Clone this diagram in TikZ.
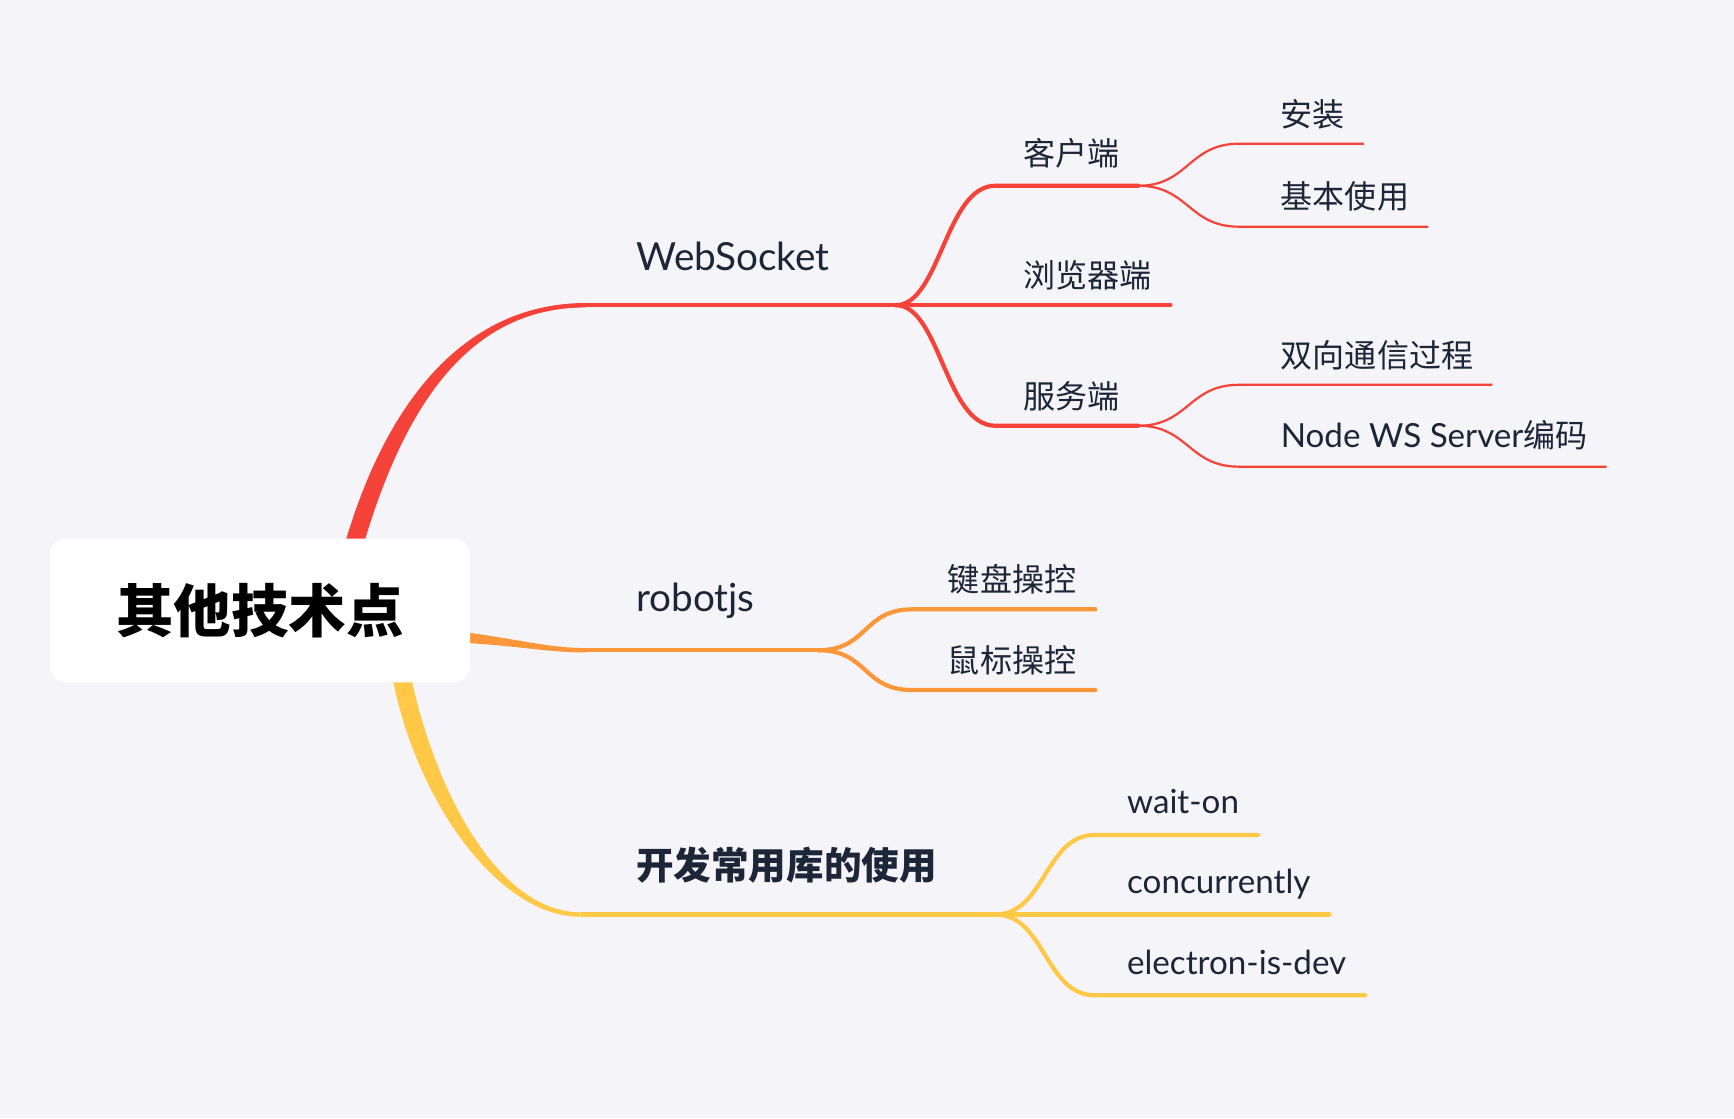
\documentclass[tikz,border=0pt]{standalone}
\usepackage{fontspec}
\setmainfont{Lato}
\newfontfamily\cjk{Noto Sans CJK SC}
\usetikzlibrary{calc}
\definecolor{bgcol}{RGB}{244,244,249}
\definecolor{wsred}{RGB}{245,67,58}
\definecolor{robotorange}{RGB}{252,151,57}
\definecolor{libyellow}{RGB}{255,200,71}
\definecolor{textnavy}{RGB}{28,38,56}
\tikzset{
  rootbox/.style={fill=white, rounded corners=14pt, minimum width=380pt, minimum height=130pt,
    font=\cjk\bfseries\fontsize{52}{60}\selectfont, text=black},
  lvone/.style={anchor=base west, inner xsep=17pt, text=textnavy, font=\fontsize{35}{40}\selectfont},
  lvtwo/.style={anchor=base west, inner xsep=17pt, text=textnavy, font=\fontsize{29}{34}\selectfont},
  latin/.style={font=\fontsize{30}{34}\selectfont},
  branch/.style={line width=3.8pt, line cap=round},
  twig/.style={line width=2pt}
}
\begin{document}
\begin{tikzpicture}[x=1pt,y=1pt]
    \useasboundingbox (0,0) rectangle (1568,1011);
    \fill[bgcol] (0,0) rectangle (1568,1011);

    % WebSocket
    \coordinate (wsroot) at (318,511);
    \coordinate (ws) at (530,735);
    \coordinate (wsfork) at (810,735);
    \fill[wsred] ($(wsroot)+(-8,2)$) .. controls (352,662) and (430,737) .. ($(ws)+(0,2)$)
        -- ($(ws)+(0,-2)$) .. controls (432,733) and (368,658) .. ($(wsroot)+(8,-2)$) -- cycle;
    \draw[wsred, line width=4pt] (ws) -- (wsfork);
    \node[lvone] (wslabel) at (558,766) {WebSocket};

    \coordinate (khd) at (900,843);
    \node[lvtwo] (khdlabel) at (908,861) {\cjk 客户端};
    \coordinate (khdend) at (khd -| khdlabel.east);
    \draw[wsred, branch] (wsfork) .. controls +(40,0) and +(-45,0) .. (khd) -- (khdend);

    \node[lvtwo] (llqlabel) at (908,751) {\cjk 浏览器端};
    \draw[wsred, branch] (wsfork) -- (wsfork -| llqlabel.east);

    \coordinate (fwd) at (900,626);
    \node[lvtwo] (fwdlabel) at (908,642) {\cjk 服务端};
    \coordinate (fwdend) at (fwd -| fwdlabel.east);
    \draw[wsred, branch] (wsfork) .. controls +(40,0) and +(-45,0) .. (fwd) -- (fwdend);

    \coordinate (az) at (1120,881);
    \node[lvtwo] (azlabel) at (1141,897) {\cjk 安装};
    \draw[wsred, twig] (khdend) .. controls +(45,0) and +(-45,0) .. (az) -- (az -| azlabel.east);

    \coordinate (jbsy) at (1120,806);
    \node[lvtwo] (jbsylabel) at (1141,822) {\cjk 基本使用};
    \draw[wsred, twig] (khdend) .. controls +(45,0) and +(-45,0) .. (jbsy) -- (jbsy -| jbsylabel.east);

    \coordinate (sxtx) at (1120,663);
    \node[lvtwo] (sxtxlabel) at (1141,679) {\cjk 双向通信过程};
    \draw[wsred, twig] (fwdend) .. controls +(45,0) and +(-45,0) .. (sxtx) -- (sxtx -| sxtxlabel.east);

    \coordinate (nodews) at (1120,589);
    \node[lvtwo, latin] (nodewslabel) at (1141,606) {Node WS Server\cjk\fontsize{29}{34}\selectfont 编码};
    \draw[wsred, twig] (fwdend) .. controls +(45,0) and +(-45,0) .. (nodews) -- (nodews -| nodewslabel.east);

    % robotjs
    \coordinate (rbroot) at (415,435);
    \coordinate (rb) at (530,423);
    \coordinate (rbfork) at (740,423);
    \fill[robotorange] ($(rbroot)+(0,5)$) .. controls (470,433) and (495,425) .. ($(rb)+(0,2)$)
        -- ($(rb)+(0,-2)$) .. controls (495,421) and (470,427) .. ($(rbroot)+(0,-5)$) -- cycle;
    \draw[robotorange, line width=4pt] (rb) -- (rbfork);
    \node[lvone] (rblabel) at (558,458) {robotjs};

    \coordinate (jpck) at (825,460);
    \node[lvtwo] (jpcklabel) at (840,476) {\cjk 键盘操控};
    \draw[robotorange, branch] (rbfork) .. controls +(45,0) and +(-45,0) .. (jpck) -- (jpck -| jpcklabel.east);

    \coordinate (sbck) at (825,387);
    \node[lvtwo] (sbcklabel) at (840,403) {\cjk 鼠标操控};
    \draw[robotorange, branch] (rbfork) .. controls +(45,0) and +(-45,0) .. (sbck) -- (sbck -| sbcklabel.east);

    % libraries
    \coordinate (libroot) at (363,400);
    \coordinate (lib) at (525,184);
    \coordinate (libfork) at (900,184);
    \fill[libyellow] ($(libroot)+(-8,-2)$) .. controls (376,288) and (450,182) .. ($(lib)+(0,-2)$)
        -- ($(lib)+(0,2)$) .. controls (452,186) and (394,292) .. ($(libroot)+(8,2)$) -- cycle;
    \draw[libyellow, line width=4pt] (lib) -- (libfork);
    \node[lvone] (liblabel) at (558,216) {\cjk\bfseries\fontsize{34}{40}\selectfont 开发常用库的使用};

    \coordinate (waiton) at (990,256);
    \node[lvtwo, latin] (waitonlabel) at (1002,275) {wait-on};
    \draw[libyellow, branch] (libfork) .. controls +(45,0) and +(-45,0) .. (waiton) -- (waiton -| waitonlabel.east);

    \node[lvtwo, latin] (conclabel) at (1002,203) {concurrently};
    \draw[libyellow, branch] (libfork) -- (libfork -| conclabel.east);

    \coordinate (isdev) at (990,111);
    \node[lvtwo, latin] (isdevlabel) at (1002,130) {electron-is-dev};
    \draw[libyellow, branch] (libfork) .. controls +(45,0) and +(-45,0) .. (isdev) -- (isdev -| isdevlabel.east);

    % centre topic
    \node[rootbox] (root) at (235,459) {其他技术点};

\end{tikzpicture}
\end{document}
